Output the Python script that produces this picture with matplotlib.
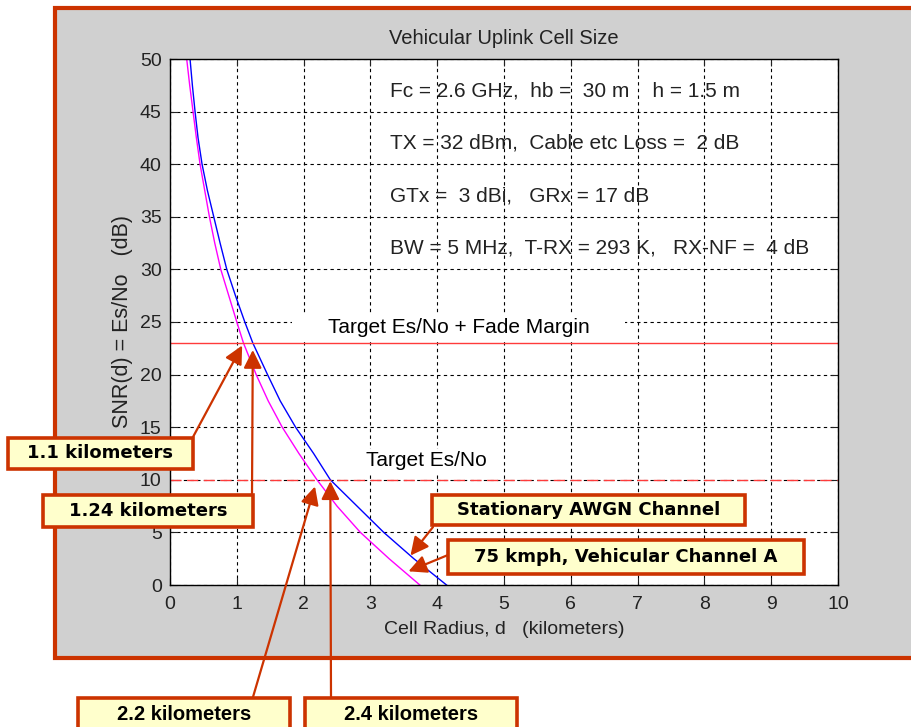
import matplotlib
matplotlib.use("Agg")
import matplotlib.pyplot as plt
from matplotlib.patches import Rectangle

plt.rcParams["font.family"] = ["Liberation Sans", "DejaVu Sans"]

W, H = 912, 727  # figure size in pixels

# --- data ----------------------------------------------------------------
# Stationary AWGN channel (blue)
awgn_snr = [50, 47.5, 45, 42.5, 40, 37.5, 35, 32.5, 30, 27.5, 25, 23,
            20, 17.5, 15, 12.5, 10, 7.5, 5, 2.5, 0]
awgn_d = [0.30, 0.335, 0.375, 0.42, 0.48, 0.56, 0.655, 0.75, 0.85, 0.98,
          1.12, 1.24, 1.46, 1.65, 1.88, 2.15, 2.40, 2.80, 3.20, 3.65, 4.14]
# 75 kmph, Vehicular Channel A (magenta)
veh_snr = awgn_snr
veh_d = [0.25, 0.295, 0.345, 0.395, 0.45, 0.52, 0.59, 0.67, 0.76, 0.88,
         1.00, 1.10, 1.29, 1.47, 1.68, 1.93, 2.20, 2.50, 2.85, 3.28, 3.74]

fade_level = 23      # Target Es/No + Fade Margin
target_level = 10    # Target Es/No
fade_cross = [1.1, 1.24]     # vehicular, AWGN
target_cross = [2.2, 2.4]    # vehicular, AWGN

xticks = list(range(0, 11))
yticks = list(range(0, 51, 5))

param_lines = [
    "Fc = 2.6 GHz,  hb =  30 m    h = 1.5 m",
    "TX = 32 dBm,  Cable etc Loss =  2 dB",
    "GTx =  3 dBi,   GRx = 17 dB",
    "BW = 5 MHz,  T-RX = 293 K,   RX-NF =  4 dB",
]
param_y = [47, 42, 37, 32]

ORANGE = "#CC3300"
YELLOW = "#FFFFCC"
INK = "#222222"


def fx(px):
    return px / W


def fy(py):
    return 1 - py / H


fig = plt.figure(figsize=(W / 100, H / 100), dpi=100)
fig.patch.set_facecolor("white")

# gray Matlab-style figure window with orange border
frame = Rectangle((fx(55), fy(658)), fx(940) - fx(55), fy(8) - fy(658),
                  transform=fig.transFigure, facecolor="#D0D0D0",
                  edgecolor=ORANGE, lw=3, zorder=-1)
fig.add_artist(frame)

ax = fig.add_axes([fx(170), fy(585), fx(838) - fx(170), fy(59) - fy(585)])
ax.set_facecolor("white")

ax.plot(awgn_d, awgn_snr, color="#0000FF", lw=1)
ax.plot(veh_d, veh_snr, color="#FF00FF", lw=1)
ax.axhline(fade_level, color="#FF3B3B", lw=1)
ax.axhline(target_level, color="#FF3B3B", lw=1, linestyle=(0, (8, 4)))

ax.set_xlim(0, 10)
ax.set_ylim(0, 50)
ax.set_xticks(xticks)
ax.set_yticks(yticks)
ax.grid(True, color="black", lw=0.8, linestyle=(0, (3, 3)))
ax.tick_params(direction="in", top=True, right=True, length=5, width=0.8,
               labelsize=14, colors=INK)
ax.tick_params(axis="x", pad=8)
ax.tick_params(axis="y", pad=6)
for sp in ax.spines.values():
    sp.set_linewidth(1)

ax.set_title("Vehicular Uplink Cell Size", fontsize=14.5, pad=11, color=INK)
ax.set_xlabel("Cell Radius, d   (kilometers)", fontsize=14, labelpad=6,
              color=INK)
ax.set_ylabel("SNR(d) = Es/No   (dB)", fontsize=15.5, labelpad=5, color=INK)

for txt, yv in zip(param_lines, param_y):
    ax.text(3.29, yv, txt, fontsize=15, va="center", ha="left",
            color=INK, zorder=3)

# white patch behind the fade margin label
ax.add_patch(Rectangle((1.83, 23.3), 4.98, 2.55, facecolor="white",
                       edgecolor="none", zorder=1.8))
ax.text(2.37, 24.45, "Target Es/No + Fade Margin", fontsize=15,
        va="center", ha="left", zorder=3)
ax.text(2.93, 11.8, "Target Es/No", fontsize=15, va="center", ha="left",
        zorder=3, bbox=dict(facecolor="white", edgecolor="none", pad=2))

# --- callouts -------------------------------------------------------------
arrow = dict(arrowstyle="-|>,head_length=1.0,head_width=0.5",
             mutation_scale=11, color=ORANGE, lw=1.6, shrinkA=0)


def point_to(xy, tail_px, shrink):
    ax.annotate("", xy=xy, xycoords="data",
                xytext=(fx(tail_px[0]), fy(tail_px[1])),
                textcoords="figure fraction",
                arrowprops=dict(arrow, shrinkB=shrink),
                annotation_clip=False)


def callout(x0, y0, x1, y1, text, size=13, family="DejaVu Sans", ty=None):
    fig.add_artist(Rectangle((fx(x0), fy(y1)), fx(x1) - fx(x0),
                             fy(y0) - fy(y1), transform=fig.transFigure,
                             facecolor=YELLOW, edgecolor=ORANGE, lw=2.6,
                             zorder=10))
    if ty is None:
        ty = (y0 + y1) / 2
    fig.text(fx((x0 + x1) / 2), fy(ty), text, fontsize=size,
             fontweight="bold", family=family, ha="center", va="center",
             zorder=11)


point_to((fade_cross[0], fade_level), (193, 437), 2)
point_to((fade_cross[1], fade_level), (252, 495), 5)
point_to((target_cross[0], target_level), (253, 697), 5)
point_to((target_cross[1], target_level), (331, 697), 1)
point_to((3.6, 2.8), (433, 527), 0)
point_to((3.57, 1.3), (448, 555), 0)

callout(8, 438, 193, 469, f"{fade_cross[0]} kilometers")
callout(43, 495, 253, 527, f"{fade_cross[1]} kilometers")
callout(432, 495, 745, 525, "Stationary AWGN Channel")
callout(448, 540, 804, 574, "75 kmph, Vehicular Channel A")
callout(78, 698, 290, 740, f"{target_cross[0]} kilometers", size=14.5,
        family="Liberation Sans", ty=714)
callout(305, 698, 517, 740, f"{target_cross[1]} kilometers", size=14.5,
        family="Liberation Sans", ty=714)

fig.savefig("out.png", dpi=100)
